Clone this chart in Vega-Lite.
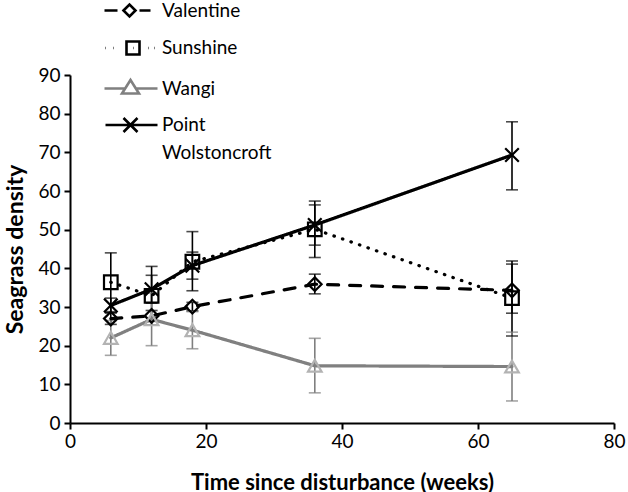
{
  "$schema": "https://vega.github.io/schema/vega-lite/v6.json",
  "width": 544,
  "height": 348,
  "autosize": {"type": "none"},
  "padding": {"left": 70, "top": 75, "right": 14, "bottom": 69},
  "background": "white",
  "config": {
    "view": {"stroke": null},
    "font": "Lato",
    "axis": {
      "grid": false,
      "domainColor": "black",
      "domainWidth": 2,
      "tickColor": "black",
      "tickWidth": 2,
      "tickSize": 6,
      "labelFont": "Lato",
      "labelFontSize": 19,
      "labelColor": "black",
      "labelOverlap": false,
      "labelSeparation": 0,
      "labelBound": false,
      "labelFlush": false,
      "titleFont": "Lato",
      "titleFontSize": 22,
      "titleFontWeight": "bold",
      "titleColor": "black"
    },
    "legend": {"symbolOpacity": 1, "symbolStrokeWidth": 2.6}
  },
  "data": {
    "values": [
      {"site": "Valentine", "week": 6, "density": 27.0, "lo": 25.5, "hi": 28.5},
      {"site": "Valentine", "week": 12, "density": 27.7, "lo": 26.3, "hi": 29.1},
      {"site": "Valentine", "week": 18, "density": 30.1, "lo": 29.0, "hi": 31.2},
      {"site": "Valentine", "week": 36, "density": 35.9, "lo": 33.4, "hi": 38.5},
      {"site": "Valentine", "week": 65, "density": 34.3, "lo": 28.4, "hi": 41.1},
      {"site": "Sunshine", "week": 6, "density": 36.4, "lo": 28.8, "hi": 44.0},
      {"site": "Sunshine", "week": 12, "density": 32.9, "lo": 25.3, "hi": 40.5},
      {"site": "Sunshine", "week": 18, "density": 41.7, "lo": 34.2, "hi": 49.5},
      {"site": "Sunshine", "week": 36, "density": 50.1, "lo": 42.8, "hi": 57.4},
      {"site": "Sunshine", "week": 65, "density": 32.3, "lo": 22.5, "hi": 41.9},
      {"site": "Wangi", "week": 6, "density": 22.0, "lo": 17.5, "hi": 26.5},
      {"site": "Wangi", "week": 12, "density": 26.8, "lo": 20.0, "hi": 33.6},
      {"site": "Wangi", "week": 18, "density": 24.0, "lo": 19.2, "hi": 28.8},
      {"site": "Wangi", "week": 36, "density": 14.8, "lo": 7.8, "hi": 21.9},
      {"site": "Wangi", "week": 65, "density": 14.6, "lo": 5.7, "hi": 23.5},
      {"site": "Point Wolstoncroft", "week": 6, "density": 30.4, "lo": 28.5, "hi": 32.3},
      {"site": "Point Wolstoncroft", "week": 12, "density": 34.6, "lo": 31.0, "hi": 38.2},
      {"site": "Point Wolstoncroft", "week": 18, "density": 40.7, "lo": 37.2, "hi": 44.2},
      {"site": "Point Wolstoncroft", "week": 36, "density": 51.2, "lo": 46.0, "hi": 56.4},
      {"site": "Point Wolstoncroft", "week": 65, "density": 69.3, "lo": 60.3, "hi": 77.9}
    ]
  },
  "encoding": {
    "x": {
      "field": "week",
      "type": "quantitative",
      "scale": {"domain": [0, 80], "nice": false, "zero": true},
      "axis": {"values": [0, 20, 40, 60, 80], "title": "Time since disturbance (weeks)", "labelPadding": 3, "titlePadding": 21}
    }
  },
  "layer": [
    {
      "mark": {"type": "rule", "strokeWidth": 1.6},
      "encoding": {
        "y": {
          "field": "lo",
          "type": "quantitative",
          "scale": {"domain": [0, 90], "nice": false},
          "axis": {"values": [0, 10, 20, 30, 40, 50, 60, 70, 80, 90], "tickCount": 10, "labelOverlap": false, "title": "Seagrass density", "labelPadding": 4, "titlePadding": 10, "titleFontSize": 23}
        },
        "y2": {"field": "hi"},
        "color": {"condition": {"test": "datum.site === 'Wangi'", "value": "#7f7f7f"}, "value": "black"}
      }
    },
    {
      "mark": {"type": "tick", "orient": "horizontal", "size": 12, "thickness": 1.6},
      "encoding": {
        "y": {"field": "lo", "type": "quantitative"},
        "color": {"condition": {"test": "datum.site === 'Wangi'", "value": "#7f7f7f"}, "value": "black"}
      }
    },
    {
      "mark": {"type": "tick", "orient": "horizontal", "size": 12, "thickness": 1.6},
      "encoding": {
        "y": {"field": "hi", "type": "quantitative"},
        "color": {"condition": {"test": "datum.site === 'Wangi'", "value": "#7f7f7f"}, "value": "black"}
      }
    },
    {
      "mark": {"type": "line", "strokeWidth": 3.2, "strokeCap": "round"},
      "encoding": {
        "y": {"field": "density", "type": "quantitative"},
        "color": {
          "field": "site",
          "type": "nominal",
          "scale": {"domain": ["Valentine", "Sunshine", "Wangi", "Point Wolstoncroft"], "range": ["black", "black", "#808080", "black"]},
          "legend": {
            "orient": "none",
            "legendX": 49,
            "legendY": -76,
            "title": null,
            "padding": 0,
            "symbolSize": 400,
            "symbolStrokeWidth": 2.6,
            "symbolOpacity": 1,
            "labelFont": "Lato",
            "labelFontSize": 19,
            "labelColor": "black",
            "labelOffset": 20,
            "labelLimit": 400,
            "rowPadding": 13.5,
            "labelBaseline": "alphabetic",
            "labelExpr": "datum.label == 'Point Wolstoncroft' ? ['Point', 'Wolstoncroft'] : datum.label",
            "encode": {
              "labels": {"update": {"dy": {"value": 6}, "lineHeight": {"value": 28}}}
            }
          }
        },
        "strokeDash": {
          "field": "site",
          "type": "nominal",
          "scale": {"domain": ["Point Wolstoncroft", "Wangi", "Sunshine", "Valentine"], "range": [[1, 0], [1, 0], [0.5, 8.5], [11, 11]]},
          "legend": null
        }
      }
    },
    {
      "mark": {"type": "point", "filled": false, "size": 185, "strokeWidth": 2.2, "opacity": 1},
      "encoding": {
        "y": {"field": "density", "type": "quantitative"},
        "shape": {
          "condition": [
            {"test": "datum.site === 'Valentine'", "value": "diamond"},
            {"test": "datum.site === 'Sunshine'", "value": "square"},
            {"test": "datum.site === 'Wangi'", "value": "triangle-up"},
            {"test": "datum.site === 'Point Wolstoncroft'", "value": "M-1,-1L1,1M-1,1L1,-1"}
          ],
          "field": "site",
          "type": "nominal",
          "scale": {
            "domain": ["Valentine", "Sunshine", "Wangi", "Point Wolstoncroft"],
            "range": [
              "M-2.6,0L-1.3,0M0.9,0L2.0,0M-0.7,0L-0.1,-0.6L0.5,0L-0.1,0.6Z",
              "M-2.5,0L-2.45,0M-1.7,0L-1.65,0M-0.4,-0.65L0.9,-0.65L0.9,0.65L-0.4,0.65ZM0.25,0L0.3,0M1.8,0L1.85,0M2.4,0L2.45,0",
              "M-2.6,0L-0.55,0M0.55,0L2.7,0M-0.85,0.5L0,-0.85L0.85,0.5Z",
              "M-2.5,0L2.7,0M-0.7,-0.7L0.7,0.7M-0.7,0.7L0.7,-0.7"
            ]
          }
        },
        "color": {
          "condition": {"test": "datum.site === 'Wangi'", "value": "#b3b3b3"},
          "field": "site",
          "type": "nominal"
        }
      }
    }
  ]
}
